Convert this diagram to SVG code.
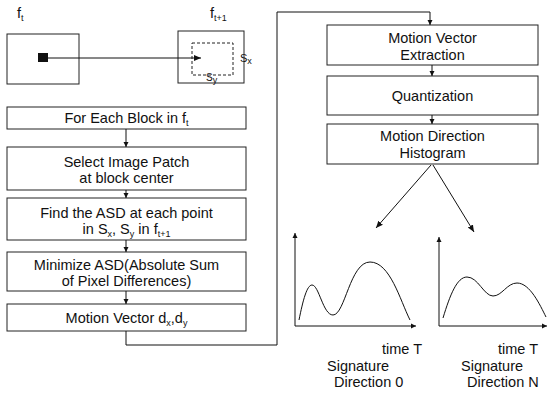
<svg xmlns="http://www.w3.org/2000/svg" width="548" height="394" viewBox="0 0 548 394">
<defs>
<marker id="ah" markerWidth="8" markerHeight="8" refX="7" refY="4" orient="auto" markerUnits="userSpaceOnUse">
<path d="M0,1 L7,4 L0,7 Z" fill="#111"/>
</marker>
<marker id="sh" markerWidth="6" markerHeight="6" refX="5" refY="3" orient="auto" markerUnits="userSpaceOnUse">
<path d="M0,0.5 L5,3 L0,5.5 Z" fill="#111"/>
</marker>
</defs>
<style>
.box{fill:#fff;stroke:#222;stroke-width:1}
.t{font-family:"Liberation Sans",Arial,sans-serif;font-size:14.5px;fill:#111;text-anchor:middle}
.l{font-family:"Liberation Sans",Arial,sans-serif;font-size:14.5px;fill:#111}
.sub{font-size:9px}
.c{fill:none;stroke:#111;stroke-width:1}
.dash{fill:none;stroke:#222;stroke-width:1;stroke-dasharray:3,2}
</style>
<rect width="548" height="394" fill="#fff"/>

<g id="frame-t">
<text class="l" x="17" y="18">f<tspan class="sub" dy="3">t</tspan></text>
<rect class="box" x="7" y="34" width="72" height="50"/>
<rect x="38" y="53" width="10" height="9" fill="#111"/>
</g>
<g id="frame-t1">
<text class="l" x="210" y="18">f<tspan class="sub" dy="3">t+1</tspan></text>
<rect class="box" x="178" y="31" width="66" height="52"/>
<rect class="dash" x="192" y="43" width="41" height="32"/>
<text class="l" x="240" y="62" style="font-size:11px">S<tspan class="sub" dy="2">x</tspan></text>
<text class="l" x="206" y="81" style="font-size:10px">S<tspan class="sub" dy="2">y</tspan></text>
</g>

<g id="b1">
<rect class="box" x="7" y="107" width="239" height="22"/>
<text class="t" x="126.5" y="123">For Each Block in f<tspan class="sub" dy="3">t</tspan></text>
</g>
<g id="b2">
<rect class="box" x="7" y="147" width="239" height="43"/>
<text class="t" x="126.5" y="167">Select Image Patch</text>
<text class="t" x="126.5" y="183">at block center</text>
</g>
<g id="b3">
<rect class="box" x="7" y="198" width="239" height="42"/>
<text class="t" x="126.5" y="218">Find the ASD at each point</text>
<text class="t" x="126.5" y="234">in S<tspan class="sub" dy="3">x</tspan><tspan dy="-3">, S</tspan><tspan class="sub" dy="3">y</tspan><tspan dy="-3"> in f</tspan><tspan class="sub" dy="3">t+1</tspan></text>
</g>
<g id="b4">
<rect class="box" x="7" y="252" width="239" height="39"/>
<text class="t" x="126.5" y="270">Minimize ASD(Absolute Sum</text>
<text class="t" x="126.5" y="286">of Pixel Differences)</text>
</g>
<g id="b5">
<rect class="box" x="7" y="304" width="239" height="27"/>
<text class="t" x="126.5" y="323">Motion Vector d<tspan class="sub" dy="3">x</tspan><tspan dy="-3">,d</tspan><tspan class="sub" dy="3">y</tspan></text>
</g>

<g id="r1">
<rect class="box" x="327" y="25" width="211" height="40"/>
<text class="t" x="432.5" y="43">Motion Vector</text>
<text class="t" x="432.5" y="60">Extraction</text>
</g>
<g id="r2">
<rect class="box" x="327" y="76" width="211" height="39"/>
<text class="t" x="432.5" y="101">Quantization</text>
</g>
<g id="r3">
<rect class="box" x="327" y="124" width="211" height="40"/>
<text class="t" x="432.5" y="141">Motion Direction</text>
<text class="t" x="432.5" y="158">Histogram</text>
</g>

<g id="graph0">
<line class="c" x1="295" y1="326" x2="295" y2="233" marker-end="url(#sh)"/>
<line class="c" x1="295" y1="326" x2="416" y2="326" marker-end="url(#sh)"/>
<path class="c" d="M299,320 C303,300 307,285 312,285 C319,285 323,315 333,315 C345,315 350,262 370,262 C390,262 400,300 410,320"/>
<text class="l" x="422" y="354" text-anchor="end">time T</text>
<text class="l" x="327" y="371">Signature</text>
<text class="l" x="334" y="387">Direction 0</text>
</g>
<g id="graphN">
<line class="c" x1="439" y1="326" x2="439" y2="237" marker-end="url(#sh)"/>
<line class="c" x1="439" y1="326" x2="547" y2="326" marker-end="url(#sh)"/>
<path class="c" d="M443,318 C450,295 457,277 467,277 C478,277 484,296 493,296 C502,296 507,283 517,283 C530,283 540,305 546,317"/>
<text class="l" x="538" y="354" text-anchor="end">time T</text>
<text class="l" x="461" y="371">Signature</text>
<text class="l" x="467" y="387">Direction N</text>
</g>

<g id="connectors">
<line class="c" x1="48" y1="58" x2="201" y2="58" marker-end="url(#ah)"/>
<line class="c" x1="126" y1="129" x2="126" y2="147" marker-end="url(#sh)"/>
<line class="c" x1="126" y1="190" x2="126" y2="198" marker-end="url(#sh)"/>
<line class="c" x1="126" y1="240" x2="126" y2="252" marker-end="url(#sh)"/>
<line class="c" x1="126" y1="291" x2="126" y2="304" marker-end="url(#sh)"/>
<polyline class="c" points="126,331 126,345 277,345 277,12 430,12 430,25" marker-end="url(#sh)"/>
<line class="c" x1="432" y1="65" x2="432" y2="76" marker-end="url(#sh)"/>
<line class="c" x1="432" y1="115" x2="432" y2="124" marker-end="url(#sh)"/>
<line class="c" x1="431" y1="165" x2="376" y2="228" marker-end="url(#ah)"/>
<line class="c" x1="433" y1="165" x2="474" y2="232" marker-end="url(#ah)"/>
</g>
</svg>
